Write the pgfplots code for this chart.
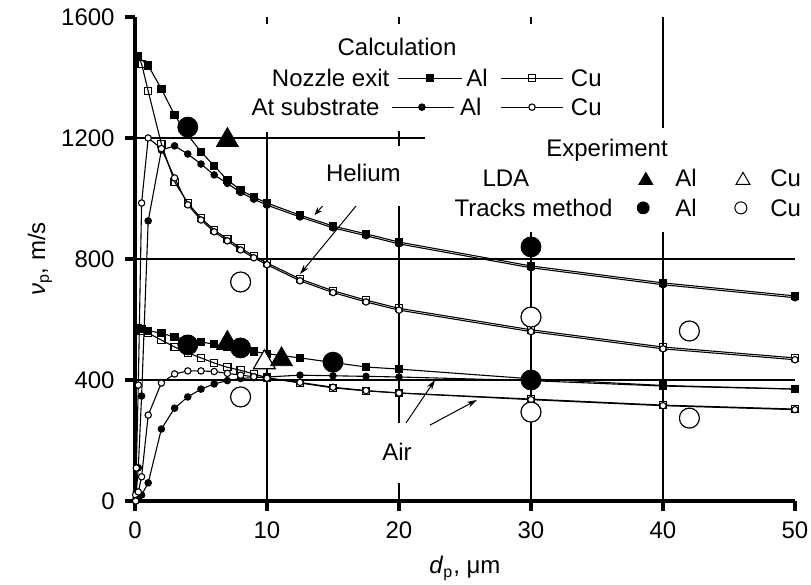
\documentclass[border=0pt]{standalone}
\usepackage{fontspec}
\setmainfont{Liberation Sans}
\usepackage{pgfplots}
\pgfplotsset{compat=1.18}
\usetikzlibrary{arrows.meta}
\tikzset{cl/.style={line width=0.55pt, black}, gl/.style={line width=0.7pt, black}}

\pgfplotstableread{
x y
0.25 1468
1 1440
2 1362
3 1276
4 1210
5 1154
6 1108
7 1061
8 1028
9 1005
10 985
12.5 945
15 909
17.5 883
20 856
30 777
40 721
50 678
}\HNA
\pgfplotstableread{
x y
0.25 1470
0.5 1445
1 1355
2 1180
3 1055
4 985
5 935
6 896
7 866
8 836
9 810
10 787
12.5 734
15 695
17.5 664
20 637
30 566
40 509
50 473
}\HNC
\pgfplotstableread{
x y
0.05 5
0.1 30
0.25 110
0.5 347
1 926
2 1160
3 1174
4 1147
5 1114
6 1078
7 1050
8 1020
9 998
10 978
12.5 939
15 903
17.5 877
20 850
30 771
40 715
50 672
}\HSA
\pgfplotstableread{
x y
0.05 20
0.1 109
0.25 383
0.5 985
1 1200
2 1165
3 1068
4 979
5 929
6 890
7 860
8 830
9 804
10 781
12.5 728
15 689
17.5 658
20 631
30 560
40 503
50 467
}\HSC
\pgfplotstableread{
x y
0.25 570
0.5 568
1 563
2 555
3 542
4 534
5 526
6 518
7 510
8 502
9 494
10 487
12.5 473
15 458
17.5 443
20 436
30 404
40 382
50 370
}\ANA
\pgfplotstableread{
x y
0.25 568
0.5 562
1 555
2 532
3 509
4 490
5 473
6 456
7 442
8 432
9 420
10 408
12.5 390
15 374
17.5 364
20 357
30 337
40 317
50 304
}\ANC
\pgfplotstableread{
x y
0.05 0
0.25 5
0.5 20
1 60
2 238
3 307
4 344
5 370
6 387
7 398
8 405
9 408
10 410
12.5 416
15 414
17.5 412
20 410
30 398
40 380
50 370
}\ASA
\pgfplotstableread{
x y
0.05 0
0.25 30
0.5 80
1 284
2 390
3 420
4 430
5 430
6 428
7 422
8 416
9 411
10 406
12.5 392
15 376
17.5 365
20 357
30 335
40 315
50 302
}\ASC

\begin{document}
\fontsize{12}{14}\selectfont
\begin{tikzpicture}[x=1pt,y=1pt]
\path[use as bounding box] (0,0) rectangle (405.5,292.5);
\begin{axis}[
  at={(67.5pt,42pt)}, anchor=south west,
  scale only axis, width=330pt, height=242pt,
  xmin=0, xmax=50, ymin=0, ymax=1600,
  axis lines*=left,
  axis line style={line width=2pt},
  xtick={0,10,...,50}, ytick={0,400,...,1600},
  tick align=outside, major tick length=5pt,
  tick style={line width=2pt, black},
  /pgf/number format/assume math mode=true,
  /pgf/number format/1000 sep={},
  tick label style={font=\fontsize{12}{14}\selectfont},
  yticklabel style={xshift=-1pt},
  xticklabel style={yshift=-1pt},
  xlabel={\textit{d}\textsubscript{p}, μm},
  ylabel={\textit{ν}\textsubscript{p}, m/s},
  xlabel style={at={(axis description cs:0.5,-0.139)}, anchor=center},
  ylabel style={at={(axis description cs:-0.144,0.5)}, anchor=center},
  label style={font=\fontsize{12}{14}\selectfont},
  clip=false,
]
% partial grid lines
\draw[gl] (axis cs:0,1200) -- (axis cs:22,1200);
\draw[gl] (axis cs:0,800) -- (axis cs:50,800);
\draw[gl] (axis cs:0,400) -- (axis cs:50,400);
\draw[gl] (axis cs:10,1220) -- (axis cs:10,0);
\draw[gl] (axis cs:10,1600) -- (axis cs:10,1576);
\draw[gl] (axis cs:20,1600) -- (axis cs:20,1576);
\draw[gl] (axis cs:20,1222) -- (axis cs:20,1172);
\draw[gl] (axis cs:20,975) -- (axis cs:20,258);
\draw[gl] (axis cs:20,60) -- (axis cs:20,0);
\draw[gl] (axis cs:30,1600) -- (axis cs:30,1576);
\draw[gl] (axis cs:30,889) -- (axis cs:30,0);
\draw[gl] (axis cs:40,1600) -- (axis cs:40,1233);
\draw[gl] (axis cs:40,889) -- (axis cs:40,0);

% calculated curves
\addplot[cl, mark=square*, mark size=1.8pt] table {\HNA};
\addplot[cl, mark=square, mark size=1.8pt, mark options={fill=white}] table {\HNC};
\addplot[cl, mark=*, mark size=1.6pt] table {\HSA};
\addplot[cl, mark=*, mark size=1.6pt, mark options={fill=white}] table {\HSC};
\addplot[cl, mark=square*, mark size=1.8pt] table {\ANA};
\addplot[cl, mark=square, mark size=1.8pt, mark options={fill=white}] table {\ANC};
\addplot[cl, mark=*, mark size=1.6pt] table {\ASA};
\addplot[cl, mark=*, mark size=1.6pt, mark options={fill=white}] table {\ASC};

% experiment
\addplot[only marks, mark=triangle*, mark size=6.3pt, mark options={draw=black, fill=white, line width=0.6pt}] coordinates {(9.8,458)};
\addplot[only marks, mark=triangle*, mark size=6.3pt, mark options={fill=black}] coordinates {(7,1193) (7,522) (11.1,468)};
\addplot[only marks, mark=*, mark size=5pt, mark options={fill=black}] coordinates {(4,1236) (4,516) (8,506) (15,459) (30,840) (30,400)};
\addplot[only marks, mark=*, mark size=5pt, mark options={draw=black, fill=white, line width=0.6pt}] coordinates {(8,724) (8,344) (30,608) (30,294) (42,562) (42,274)};

% legend: calculation
\node[anchor=center] at (axis cs:19.85,1501) {Calculation};
\node[anchor=east, inner sep=0pt] at (axis cs:19.3,1398) {Nozzle exit};
\node[anchor=east, inner sep=0pt] at (axis cs:18.56,1302) {At substrate};
\addplot[cl, mark=square*, mark size=1.8pt, mark indices={2}] coordinates {(19.92,1398) (22.35,1398) (24.77,1398)};
\addplot[cl, mark=square, mark size=1.8pt, mark options={fill=white}, mark indices={2}] coordinates {(27.73,1398) (30.08,1398) (32.42,1398)};
\addplot[cl, mark=*, mark size=1.6pt, mark indices={2}] coordinates {(19.47,1302) (21.74,1302) (24.17,1302)};
\addplot[cl, mark=*, mark size=1.6pt, mark options={fill=white}, mark indices={2}] coordinates {(27.73,1302) (30.08,1302) (32.42,1302)};
\node[anchor=west, inner sep=0pt] at (axis cs:25.08,1398) {Al};
\node[anchor=west, inner sep=0pt] at (axis cs:24.6,1302) {Al};
\node[anchor=west, inner sep=0pt] at (axis cs:33.0,1398) {Cu};
\node[anchor=west, inner sep=0pt] at (axis cs:33.0,1302) {Cu};

% legend: experiment
\node[anchor=center] at (axis cs:35.76,1160) {Experiment};
\node[anchor=center] at (axis cs:28.1,1068) {LDA};
\node[anchor=east, inner sep=0pt] at (axis cs:36.2,969) {Tracks method};
\addplot[only marks, mark=triangle*, mark size=4pt, mark options={fill=black}] coordinates {(38.7,1060)};
\addplot[only marks, mark=triangle*, mark size=4pt, mark options={fill=white, draw=black, line width=0.5pt}] coordinates {(46.06,1060)};
\addplot[only marks, mark=*, mark size=3pt, mark options={fill=black}] coordinates {(38.5,969)};
\addplot[only marks, mark=*, mark size=3pt, mark options={fill=white, draw=black, line width=0.5pt}] coordinates {(45.9,969)};
\node[anchor=center] at (axis cs:41.74,1068) {Al};
\node[anchor=center] at (axis cs:41.74,969) {Al};
\node[anchor=center] at (axis cs:49.3,1068) {Cu};
\node[anchor=center] at (axis cs:49.3,969) {Cu};

% labels and arrows
\node[anchor=center] at (axis cs:17.3,1084) {Helium};
\draw[line width=0.5pt, -{Stealth[length=5pt,width=3pt]}] (axis cs:16.74,975) -- (axis cs:12.5,750);
\draw[line width=0.5pt, -{Stealth[length=4pt,width=3pt]}] (axis cs:14.2,975) -- (axis cs:13.6,945);
\node[anchor=center] at (axis cs:19.85,161) {Air};
\draw[line width=0.5pt, -{Stealth[length=5pt,width=3pt]}] (axis cs:20.53,258) -- (axis cs:22.73,400);
\draw[line width=0.5pt, -{Stealth[length=5pt,width=3pt]}] (axis cs:22.35,251) -- (axis cs:25.9,334);
\end{axis}
\end{tikzpicture}
\end{document}
